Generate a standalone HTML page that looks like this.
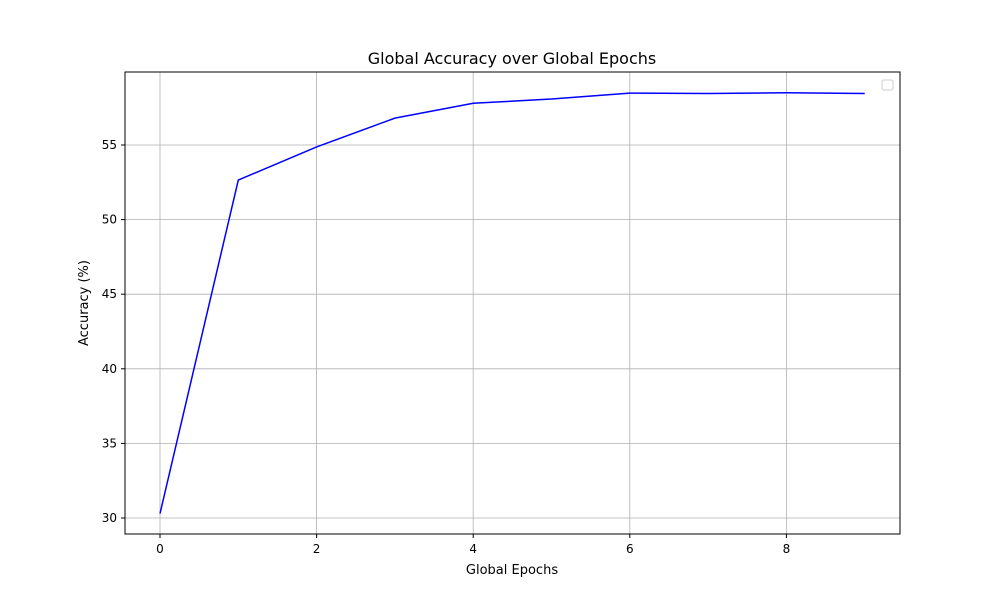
<!DOCTYPE html>
<html><head><meta charset="utf-8"><style>
body{margin:0;background:#fff;font-family:"Liberation Sans","DejaVu Sans",sans-serif}
text{font-family:"DejaVu Sans","Liberation Sans",sans-serif}
</style></head><body>
<svg id="chart" width="1000" height="600" xmlns="http://www.w3.org/2000/svg">
<rect width="1000" height="600" fill="#fff"/>
<g id="grid"></g>
<g id="ticks"></g>
<polyline id="line" fill="none" stroke="#0000ff" stroke-width="1.5"/>
<rect x="125" y="72" width="775" height="462" fill="none" stroke="#000" stroke-width="1"/>
<rect x="882" y="80" width="11" height="10" rx="2" fill="#fff" stroke="#ccc"/>
<text x="512" y="64" font-size="16" text-anchor="middle">Global Accuracy over Global Epochs</text>
<text x="512" y="574" font-size="13" text-anchor="middle">Global Epochs</text>
<text x="88" y="303" font-size="13" text-anchor="middle" transform="rotate(-90 88 303)">Accuracy (%)</text>
</svg>
<script>
const epochs=[0,1,2,3,4,5,6,7,8,9];
const accuracy=[30.3,52.65,54.87,56.8,57.8,58.08,58.48,58.45,58.5,58.45];
const xTicks=[0,2,4,6,8];
const yTicks=[30,35,40,45,50,55];
function xs(v){return 160+v*78.3;}
function ys(v){return 518-(v-30)*14.92;}
const NS="http://www.w3.org/2000/svg";
const grid=document.getElementById('grid'),ticks=document.getElementById('ticks');
function mk(tag,attrs,parent){const e=document.createElementNS(NS,tag);for(const k in attrs)e.setAttribute(k,attrs[k]);parent.appendChild(e);return e;}
xTicks.forEach(t=>{const x=xs(t);
const g=mk('line',{x1:x,x2:x,y1:72,y2:534,stroke:'#b0b0b0','stroke-width':0.8},grid);


mk('line',{x1:x,x2:x,y1:534,y2:538,stroke:'#000'},ticks);
const l=mk('text',{x:x,y:553,'font-size':12,'text-anchor':'middle'},ticks);l.textContent=t;

});
yTicks.forEach(t=>{const y=ys(t);
const g=mk('line',{x1:125,x2:900,y1:y,y2:y,stroke:'#b0b0b0','stroke-width':0.8},grid);


mk('line',{x1:121,x2:125,y1:y,y2:y,stroke:'#000'},ticks);
const l=mk('text',{x:117,y:y+4,'font-size':12,'text-anchor':'end'},ticks);l.textContent=t;

});
document.getElementById('line').setAttribute('points',epochs.map((e,i)=>xs(e)+','+ys(accuracy[i])).join(' '));
</script>
</body></html>
